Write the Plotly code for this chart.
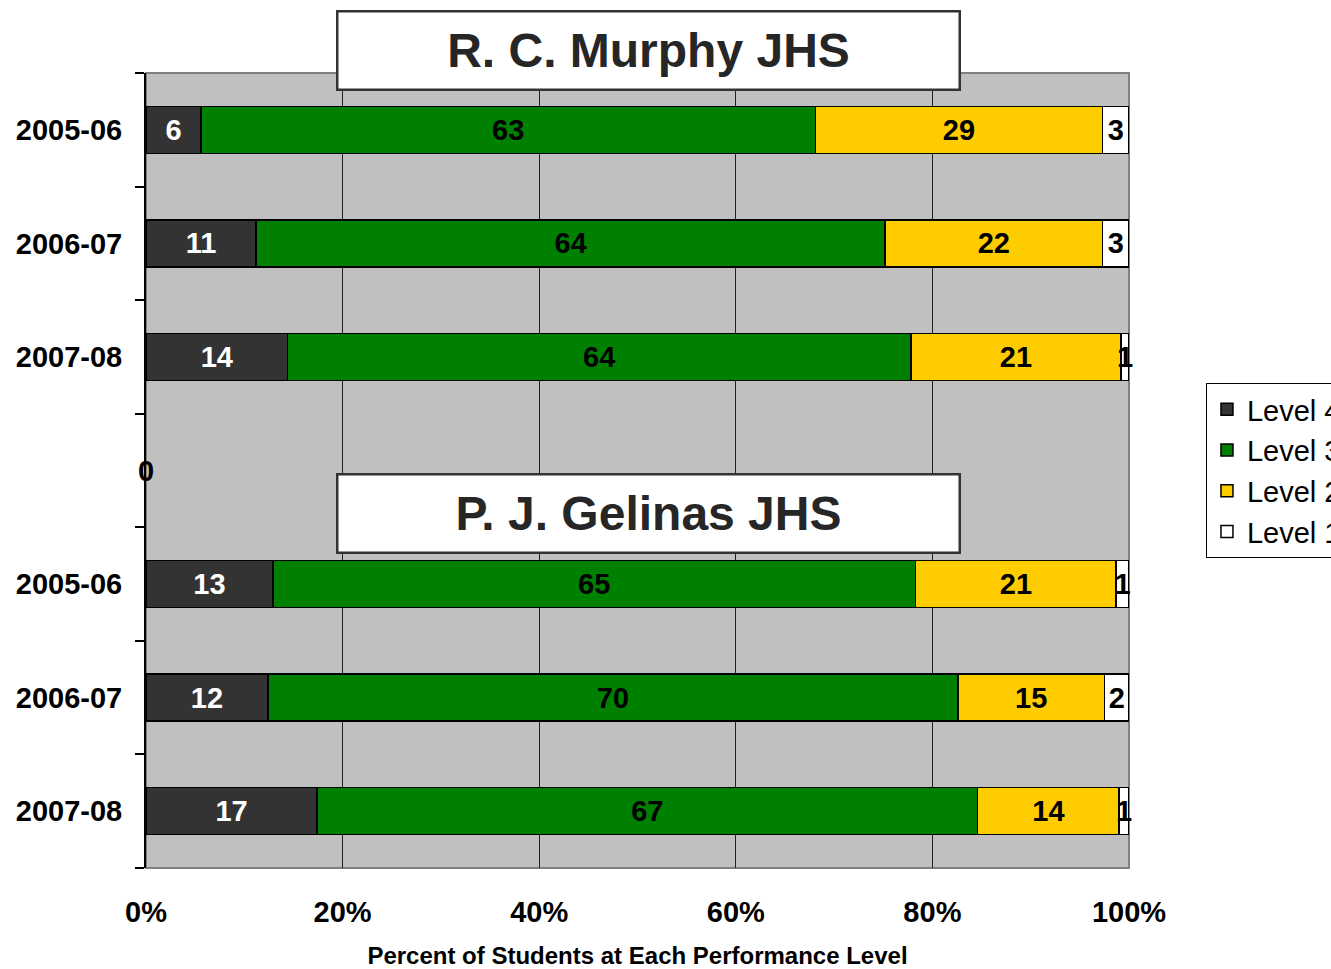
import plotly.graph_objects as go

# ---------------- data ----------------
years = ["2005-06", "2006-07", "2007-08"]
schools = ["R. C. Murphy JHS", "P. J. Gelinas JHS"]
levels = ["Level 4", "Level 3", "Level 2", "Level 1"]

# percent of students
murphy_l4 = [5.6, 11.2, 14.4]
murphy_l3 = [62.5, 64.0, 63.4]
murphy_l2 = [29.2, 22.1, 21.4]
murphy_l1 = [2.7, 2.7, 0.8]

gelinas_l4 = [12.9, 12.4, 17.4]
gelinas_l3 = [65.4, 70.2, 67.2]
gelinas_l2 = [20.4, 14.9, 14.4]
gelinas_l1 = [1.3, 2.5, 1.0]

# data labels as printed on the bars
murphy_lab4 = [6, 11, 14]
murphy_lab3 = [63, 64, 64]
murphy_lab2 = [29, 22, 21]
murphy_lab1 = [3, 3, 1]
gelinas_lab4 = [13, 12, 17]
gelinas_lab3 = [65, 70, 67]
gelinas_lab2 = [21, 15, 14]
gelinas_lab1 = [1, 2, 1]

blank_value = 0  # empty separator category label

x_ticks = [0, 20, 40, 60, 80, 100]
x_ticktext = ["0%", "20%", "40%", "60%", "80%", "100%"]
x_title = "Percent of Students at Each Performance Level"

colors = ["#333333", "#008000", "#FFCC00", "#FFFFFF"]
text_colors = ["white", "black", "black", "black"]

FONT = "Liberation Sans, Arial, sans-serif"

# category positions: Murphy rows, blank separator, Gelinas rows
y_murphy = [0, 1, 2]
y_blank = 3
y_gelinas = [4, 5, 6]
y_all = y_murphy + y_gelinas

series = [
    (murphy_l4 + gelinas_l4, murphy_lab4 + gelinas_lab4),
    (murphy_l3 + gelinas_l3, murphy_lab3 + gelinas_lab3),
    (murphy_l2 + gelinas_l2, murphy_lab2 + gelinas_lab2),
    (murphy_l1 + gelinas_l1, murphy_lab1 + gelinas_lab1),
]

fig = go.Figure()
for i, (vals, labs) in enumerate(series):
    fig.add_trace(go.Bar(
        x=vals, y=y_all, orientation="h", name=levels[i],
        legendgroup=levels[i],
        marker=dict(color=colors[i], line=dict(color="black", width=1.5)),
        text=[str(v) for v in labs],
        textposition="inside", insidetextanchor="middle",
        constraintext="none", textangle=0,
        textfont=dict(family=FONT, size=29, color=text_colors[i], weight="bold"),
        cliponaxis=False,
    ))

annotations = [
    dict(x=0, y=y_blank, xref="x", yref="y", text=str(blank_value),
         showarrow=False, xanchor="center", yanchor="middle",
         font=dict(family=FONT, size=29, color="black", weight="bold")),
    dict(x=0.5107, y=1.0283, xref="paper", yref="paper", text=schools[0],
         showarrow=False, xanchor="center", yanchor="middle",
         width=620, height=76, borderpad=0, borderwidth=2.5,
         bordercolor="#333333", bgcolor="white",
         font=dict(family=FONT, size=48, color="#262626", weight="bold")),
    dict(x=0.5107, y=0.4453, xref="paper", yref="paper", text=schools[1],
         showarrow=False, xanchor="center", yanchor="middle",
         width=620, height=76, borderpad=0, borderwidth=2.5,
         bordercolor="#333333", bgcolor="white",
         font=dict(family=FONT, size=48, color="#262626", weight="bold")),
]

fig.update_layout(
    width=1331, height=969,
    barmode="stack", bargap=0.586,
    plot_bgcolor="#C0C0C0", paper_bgcolor="white",
    margin=dict(l=146, r=202, t=73, b=101, autoexpand=False),
    font=dict(family=FONT, color="black"),
    showlegend=True,
    legend=dict(x=1.0783, y=0.5, xref="paper", yref="paper",
                xanchor="left", yanchor="middle",
                traceorder="normal", tracegroupgap=7,
                bgcolor="white", bordercolor="black", borderwidth=1,
                font=dict(family=FONT, size=29, color="black")),
    annotations=annotations,
    shapes=[dict(type="rect", xref="paper", yref="paper", x0=0, x1=1, y0=0, y1=1,
                 line=dict(color="#808080", width=2), layer="below")],
)

fig.update_xaxes(
    range=[0, 100.001], tickvals=x_ticks, ticktext=x_ticktext,
    showgrid=True, gridcolor="#222222", gridwidth=1, zeroline=False,
    showline=False, ticks="", ticklabelstandoff=24,
    tickfont=dict(family=FONT, size=29, color="black", weight="bold"),
    title=dict(text=x_title, standoff=21,
               font=dict(family=FONT, size=24, color="black", weight="bold")),
    fixedrange=True,
)
fig.update_yaxes(
    range=[6.5, -0.5], tickvals=y_all, ticktext=years + years,
    showgrid=False, zeroline=False,
    showline=True, linecolor="black", linewidth=2,
    ticks="", ticklabelstandoff=16,
    minor=dict(ticks="outside", ticklen=9, tickcolor="black", tickwidth=1.5,
               tick0=0.5, dtick=1, showgrid=False),
    tickfont=dict(family=FONT, size=29, color="black", weight="bold"),
    fixedrange=True,
)

fig.write_html("out.html", config={"displayModeBar": False},
               post_script="document.body.style.margin='0px';")
